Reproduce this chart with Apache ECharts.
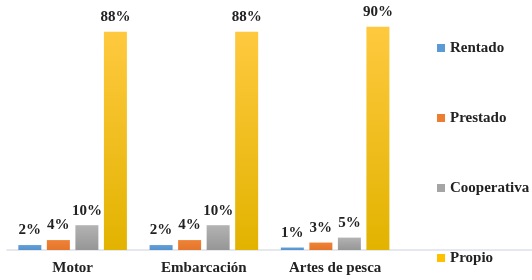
<!DOCTYPE html>
<html>
<head>
<meta charset="utf-8">
<script src="https://cdn.jsdelivr.net/npm/echarts@6/dist/echarts.min.js"></script>
<style>
  html, body { margin: 0; padding: 0; background: #fff; }
  #main { width: 532px; height: 280px; }
</style>
</head>
<body>
<div id="main"></div>
<script>
// categorías y porcentajes
var categorias = ['Motor', 'Embarcación', 'Artes de pesca'];
var rentado = [2, 2, 1];
var prestado = [4, 4, 3];
var cooperativa = [10, 10, 5];
var propio = [88, 88, 90];

var fuente = '"Liberation Serif", "Times New Roman", serif';

function grad(top, bottom) {
  return new echarts.graphic.LinearGradient(0, 0, 0, 1, [
    {offset: 0, color: top},
    {offset: 1, color: bottom}
  ]);
}

var etiqueta = {
  show: true,
  position: 'top',
  distance: 7,
  formatter: '{c}%',
  fontFamily: fuente,
  fontWeight: 'bold',
  fontSize: 15,
  color: '#222222'
};

function serie(nombre, datos, color) {
  return {
    name: nombre,
    type: 'bar',
    data: datos,
    barWidth: 23,
    barGap: '24%',
    itemStyle: {color: color},
    label: etiqueta
  };
}

var myChart = echarts.init(document.getElementById('main'));
myChart.setOption({
  animation: false,
  color: ['#5B9BD5', '#ED7D31', '#A5A5A5', '#FFC000'],
  grid: {left: 7, right: 0, top: 2, bottom: 30, containLabel: false},
  legend: {
    orient: 'vertical',
    left: 437,
    top: 40,
    padding: 0,
    itemWidth: 8,
    itemHeight: 8,
    itemGap: 54,
    icon: 'rect',
    textStyle: {
      fontFamily: fuente,
      fontWeight: 'bold',
      fontSize: 15,
      lineHeight: 16,
      color: '#222222'
    },
    data: [
      {name: 'Rentado', itemStyle: {color: '#5B9BD5'}},
      {name: 'Prestado', itemStyle: {color: '#ED7D31'}},
      {name: 'Cooperativa', itemStyle: {color: '#A5A5A5'}},
      {name: 'Propio', itemStyle: {color: '#FFC000'}}
    ]
  },
  xAxis: {
    type: 'category',
    data: categorias,
    max: 3,
    axisLine: {lineStyle: {color: '#dde2ea', width: 1.5}},
    axisTick: {show: false},
    axisLabel: {
      margin: 11,
      fontFamily: fuente,
      fontWeight: 'bold',
      fontSize: 15,
      color: '#222222'
    }
  },
  yAxis: {
    type: 'value',
    min: 0,
    max: 100,
    show: false,
    splitLine: {show: false}
  },
  series: [
    serie('Rentado', rentado, grad('#62a0d8', '#5592cc')),
    serie('Prestado', prestado, grad('#f08237', '#e4762c')),
    serie('Cooperativa', cooperativa, grad('#b3b3b3', '#969696')),
    serie('Propio', propio, grad('#ffc93f', '#e2b300'))
  ]
});
</script>
</body>
</html>
